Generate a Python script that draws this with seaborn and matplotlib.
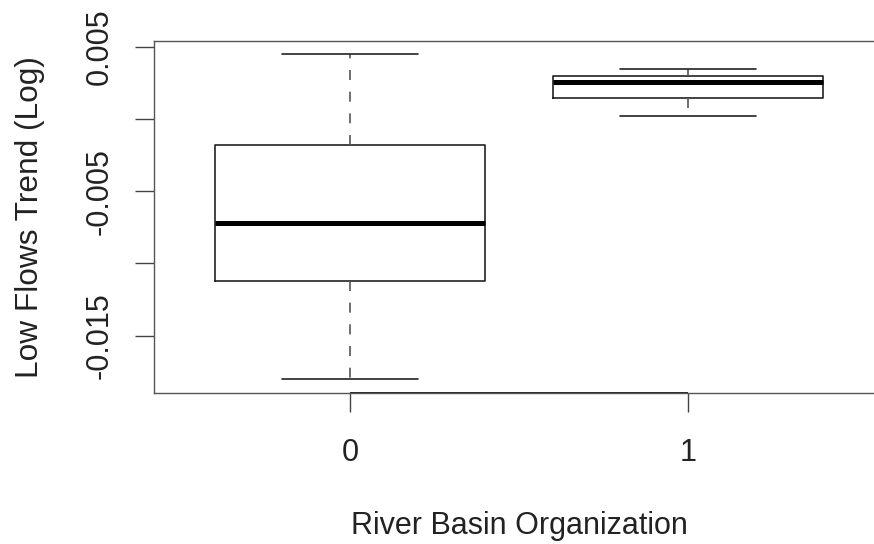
import matplotlib
matplotlib.use('Agg')

import numpy as np
import pandas as pd
import seaborn as sns
import matplotlib.pyplot as plt

sns.set_style("white")
plt.rcParams['font.family'] = ['Liberation Sans', 'DejaVu Sans']

# five-number summaries (min, q1, median, q3, max)
groups = ["0", "1"]
trend_rbo0 = [-0.01803, -0.01120, -0.00719, -0.00181, 0.00452]
trend_rbo1 = [0.00022, 0.00143, 0.00258, 0.00299, 0.00343]

ytick_vals = [0.005, 0.000, -0.005, -0.010, -0.015]
ytick_text = ["0.005", "", "-0.005", "", "-0.015"]

df = pd.DataFrame({
    "group": [groups[0]] * len(trend_rbo0) + [groups[1]] * len(trend_rbo1),
    "trend": trend_rbo0 + trend_rbo1,
})

fig = plt.figure(figsize=(8.74, 5.44), dpi=100)
# the plot region runs a little past the right edge of the picture
ax = fig.add_axes([154 / 874, 151.3 / 544, 730 / 874, 352 / 544])

line_col = "#222222"
sns.boxplot(data=df, x="group", y="trend", order=groups, ax=ax,
            fill=False, color=line_col, width=0.8, whis=np.inf,
            linewidth=1.2,
            medianprops=dict(linewidth=3.6, color="black"),
            whiskerprops=dict(linestyle=(0, (6, 7)), color="#555555", linewidth=1.2),
            capprops=dict(color=line_col, linewidth=1.2))

ax.set_xlim(-0.58, 1.58)
ax.set_ylim(-0.01896, 0.005416)

ax.set_yticks(ytick_vals, labels=ytick_text)
for lab in ax.get_yticklabels():
    lab.set_rotation(90)
    lab.set_va("center")

fs = 22
ax.tick_params(axis="both", direction="out", length=13.7, width=1.0,
               color="#444444", labelsize=fs, colors="#222222")
ax.tick_params(axis="x", pad=19)
ax.tick_params(axis="y", pad=14.5)
ax.tick_params(bottom=True, left=True)

for side in ["left", "top", "bottom", "right"]:
    ax.spines[side].set_color("#555555")
    ax.spines[side].set_linewidth(1.0)

# darker axis line between the first and last tick, as R draws it
ax.hlines(ax.get_ylim()[0], 0, 1, color="#222222", linewidth=1.4, clip_on=False)

ax.set_xlabel("River Basin Organization", fontsize=fs, color="#222222", labelpad=31)
ax.set_ylabel("Low Flows Trend (Log)", fontsize=22.8, color="#222222", labelpad=28.5)

fig.savefig("out.png", dpi=100)
